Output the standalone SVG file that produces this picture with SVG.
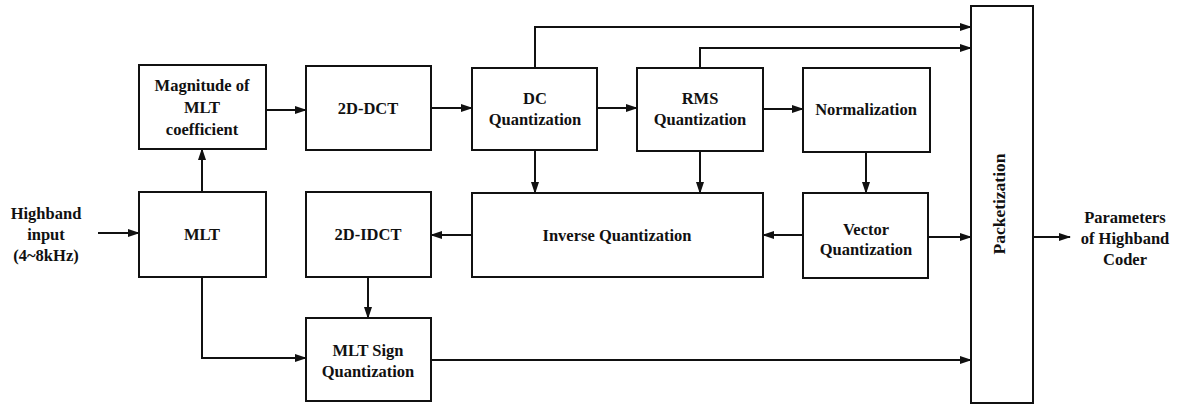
<svg xmlns="http://www.w3.org/2000/svg" width="1190" height="405" viewBox="0 0 1190 405">
<style>
.box{fill:#fff;stroke:#111;stroke-width:2}
.t{font-family:"Liberation Serif","Times New Roman",serif;font-weight:bold;font-size:16.5px;fill:#111;text-anchor:middle}
.c{fill:none;stroke:#111;stroke-width:2;marker-end:url(#ah)}
</style>
<defs>
<marker id="ah" markerUnits="userSpaceOnUse" markerWidth="12" markerHeight="9" refX="11" refY="4.5" orient="auto">
<path d="M0,0.5 L12,4.5 L0,8.5 z" fill="#111"/>
</marker>
</defs>
<rect width="1190" height="405" fill="#fff"/>
<g id="connectors">
<path class="c" d="M98,233 H139"/>
<path class="c" d="M202,192 V149"/>
<path class="c" d="M266,110 H306"/>
<path class="c" d="M431,108 H472"/>
<path class="c" d="M597,108 H637"/>
<path class="c" d="M763,109 H803"/>
<path class="c" d="M535,68 V27 H971"/>
<path class="c" d="M700,68 V48 H971"/>
<path class="c" d="M535,150 V193"/>
<path class="c" d="M700,151 V193"/>
<path class="c" d="M866,152 V193"/>
<path class="c" d="M803,235 H763"/>
<path class="c" d="M472,235 H431"/>
<path class="c" d="M928,237 H971"/>
<path class="c" d="M1034,237 H1070"/>
<path class="c" d="M202,277 V358 H306"/>
<path class="c" d="M368,277 V318"/>
<path class="c" d="M431,360 H971"/>
</g>
<g id="input"><text class="t" x="46" y="219">Highband</text><text class="t" x="46" y="240">input</text><text class="t" x="46" y="261">(4~8kHz)</text></g>
<g id="magnitude"><rect class="box" x="139" y="65" width="127" height="84"/><text class="t" x="202" y="91">Magnitude of</text><text class="t" x="202" y="113">MLT</text><text class="t" x="202" y="135">coefficient</text></g>
<g id="dct"><rect class="box" x="306" y="66" width="125" height="84"/><text class="t" x="368" y="114">2D-DCT</text></g>
<g id="dcq"><rect class="box" x="472" y="68" width="125" height="82"/><text class="t" x="535" y="104">DC</text><text class="t" x="535" y="125">Quantization</text></g>
<g id="rmsq"><rect class="box" x="637" y="68" width="126" height="83"/><text class="t" x="700" y="104">RMS</text><text class="t" x="700" y="125">Quantization</text></g>
<g id="norm"><rect class="box" x="803" y="68" width="127" height="84"/><text class="t" x="866" y="115">Normalization</text></g>
<g id="mlt"><rect class="box" x="139" y="192" width="127" height="85"/><text class="t" x="202" y="240">MLT</text></g>
<g id="idct"><rect class="box" x="306" y="192" width="125" height="85"/><text class="t" x="368" y="240">2D-IDCT</text></g>
<g id="invq"><rect class="box" x="472" y="193" width="291" height="84"/><text class="t" x="617" y="241">Inverse Quantization</text></g>
<g id="vq"><rect class="box" x="803" y="193" width="125" height="85"/><text class="t" x="866" y="235">Vector</text><text class="t" x="866" y="255">Quantization</text></g>
<g id="signq"><rect class="box" x="306" y="318" width="125" height="83"/><text class="t" x="368" y="356">MLT Sign</text><text class="t" x="368" y="377">Quantization</text></g>
<g id="packet"><rect class="box" x="971" y="6" width="62" height="397"/><text class="t" transform="translate(1005,204) rotate(-90)" style="font-size:17.5px">Packetization</text></g>
<g id="output"><text class="t" x="1125" y="223">Parameters</text><text class="t" x="1125" y="244">of Highband</text><text class="t" x="1125" y="265">Coder</text></g>
</svg>
